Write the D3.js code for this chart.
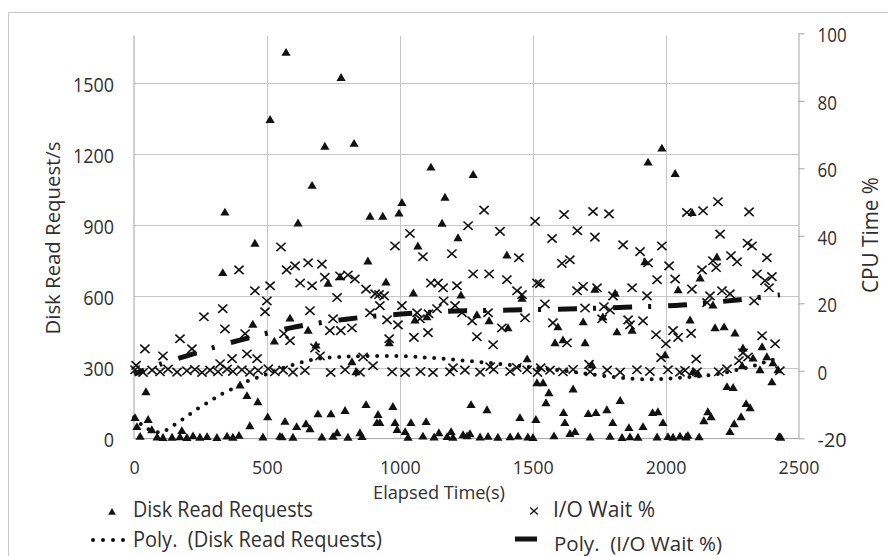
<!DOCTYPE html>
<html>
<head>
<meta charset="utf-8">
<script src="https://cdn.jsdelivr.net/npm/d3@7"></script>
<style>
  body { margin: 0; background: #fff; }
  text { font-family: "Open Sans", sans-serif; fill: #303030; }
</style>
</head>
<body>
<svg id="chart" width="888" height="556"></svg>
<script>
// Axis ticks
const xTicks = [0, 500, 1000, 1500, 2000, 2500];
const leftTicks = [0, 300, 600, 900, 1200, 1500];
const rightTicks = [-20, 0, 20, 40, 60, 80, 100];

// Disk read requests per second: [elapsed s, requests/s]
const diskReads = [
  [4,87],[11,49],[23,8],[45,196],[53,79],[67,36],[87,5],[109,3],[143,4],[173,6],[180,32],[199,3],
  [222,10],[248,4],[275,7],[312,3],[334,699],[342,954],[350,9],[372,4],[395,12],[399,225],[425,180],
  [436,53],[447,481],[455,823],[466,154],[485,5],[503,90],[512,1345],[528,410],[549,8],[557,6],[568,71],
  [572,1628],[587,507],[598,4],[612,49],[617,908],[647,61],[655,456],[662,40],[670,1067],[685,393],
  [692,103],[707,5],[718,1232],[730,654],[741,103],[749,8],[764,23],[775,681],[779,1522],[794,117],
  [805,4],[820,323],[828,1244],[835,280],[850,23],[858,7],[873,142],[880,748],[888,937],[914,66],
  [918,100],[925,66],[936,937],[948,659],[960,403],[974,134],[982,66],[990,37],[997,950],[1008,995],
  [1020,28],[1031,4],[1042,66],[1051,613],[1057,499],[1068,811],[1087,9],[1099,70],[1102,512],
  [1117,1144],[1129,5],[1147,23],[1159,907],[1170,1017],[1178,7],[1193,28],[1200,4],[1219,846],
  [1230,604],[1238,15],[1253,10],[1264,19],[1268,142],[1276,1113],[1290,521],[1302,5],[1328,120],
  [1332,8],[1336,496],[1369,4],[1403,773],[1407,466],[1415,6],[1445,9],[1452,87],[1460,591],[1479,335],
  [1482,5],[1501,3],[1512,79],[1516,234],[1539,234],[1550,150],[1561,192],[1580,10],[1584,403],
  [1595,470],[1614,415],[1616,108],[1621,66],[1640,20],[1652,208],[1659,28],[1690,491],[1697,403],
  [1709,104],[1716,5],[1723,310],[1734,629],[1738,108],[1764,512],[1779,120],[1791,8],[1801,66],
  [1810,612],[1817,449],[1829,159],[1836,3],[1862,45],[1866,6],[1874,456],[1896,4],[1915,49],[1922,745],
  [1934,1165],[1951,108],[1968,5],[1971,112],[1986,1224],[1990,66],[1998,352],[2009,7],[2028,4],
  [2036,1117],[2047,626],[2054,9],[2077,5],[2084,12],[2092,499],[2100,952],[2103,281],[2122,272],
  [2126,6],[2130,676],[2144,74],[2159,112],[2171,91],[2178,562],[2186,466],[2193,765],[2220,470],
  [2231,218],[2242,28],[2254,214],[2258,61],[2261,444],[2284,91],[2288,306],[2291,381],[2303,146],
  [2318,129],[2329,338],[2355,289],[2363,386],[2381,344],[2400,238],[2404,318],[2423,289],[2427,7],[2433,4]
];

// I/O wait share of CPU time: [elapsed s, percent]
const ioWait = [
  [4,0.3],[8,1.6],[34,-0.5],[41,6.5],[68,0.2],[98,-0.3],[109,4.4],[128,0.5],[162,-0.4],[173,9.5],
  [199,0],[218,6.5],[229,0.4],[256,-0.5],[263,16.0],[286,0.2],[316,-0.3],[324,2.1],[334,18.4],
  [342,12.4],[350,0.5],[369,3.6],[372,-0.2],[395,29.9],[406,0.3],[418,11.0],[425,5.0],[436,-0.4],
  [455,23.7],[463,3.6],[467,0.1],[493,17.5],[500,20.7],[505,0.6],[512,25.2],[530,-0.3],[553,36.7],
  [561,0.2],[564,11.0],[574,29.9],[587,8.9],[598,-0.4],[606,31.1],[625,26.0],[643,0.1],[655,32.0],
  [662,17.8],[670,25.2],[681,6.8],[700,4.4],[707,31.6],[718,27.7],[737,11.9],[740,-0.5],[749,15.4],
  [764,21.7],[775,28.1],[778,11.9],[794,0.3],[805,28.4],[820,12.7],[831,27.2],[850,-0.4],[862,4.1],
  [873,24.2],[888,17.2],[899,1.5],[907,22.8],[922,22.6],[925,19.3],[941,22.2],[952,15.1],[960,9.5],
  [971,-0.3],[982,37.0],[993,13.6],[1008,19.3],[1020,-0.5],[1038,40.7],[1053,9.9],[1065,17.2],
  [1076,15.4],[1078,-0.2],[1087,33.8],[1106,11.3],[1108,16.9],[1117,26.0],[1125,-0.5],[1140,18.4],
  [1144,26.0],[1163,24.6],[1165,20.7],[1189,-0.3],[1196,34.7],[1200,0.9],[1208,19.3],[1215,25.2],
  [1234,17.2],[1245,0.2],[1257,43.0],[1272,14.8],[1276,28.7],[1290,10.1],[1302,-0.4],[1317,47.6],
  [1332,17.2],[1336,28.7],[1340,1.2],[1351,7.7],[1353,0.4],[1377,41.3],[1384,12.7],[1403,27.0],
  [1415,-0.2],[1440,1.0],[1441,23.7],[1448,33.5],[1460,22.6],[1471,15.7],[1479,0.3],[1509,44.3],
  [1516,26.0],[1518,-0.5],[1527,25.8],[1530,0.9],[1546,19.8],[1565,0.2],[1573,39.2],[1576,14.2],
  [1610,31.8],[1614,-0.3],[1618,46.3],[1629,8.3],[1640,32.9],[1652,0.4],[1667,23.7],[1668,41.5],
  [1690,25.0],[1697,18.6],[1712,1.9],[1716,-0.3],[1727,47.2],[1734,39.6],[1742,24.6],[1761,15.4],
  [1768,19.0],[1780,0.2],[1787,46.5],[1791,18.0],[1802,22.2],[1829,-0.4],[1840,37.3],[1859,15.1],
  [1866,13.6],[1874,24.6],[1892,0.3],[1904,35.3],[1915,14.8],[1930,22.2],[1934,32.0],[1941,-0.2],
  [1964,10.7],[1968,27.0],[1983,3.9],[1986,37.0],[2001,8.0],[2009,0.3],[2013,31.1],[2028,11.9],
  [2036,27.2],[2047,9.9],[2054,-0.4],[2073,0.1],[2080,46.9],[2096,11.1],[2099,24.2],[2115,3.5],
  [2118,-0.3],[2137,29.9],[2141,47.4],[2156,20.2],[2167,22.2],[2178,32.6],[2190,30.6],[2197,50.1],
  [2200,-0.3],[2205,40.5],[2212,23.7],[2231,0.6],[2242,22.8],[2246,34.1],[2269,32.3],[2276,3.0],
  [2291,5.3],[2308,37.8],[2310,4.1],[2314,47.1],[2325,37.0],[2333,20.7],[2344,28.7],[2363,10.4],
  [2374,26.7],[2381,33.5],[2389,24.6],[2400,27.9],[2412,8.0],[2430,0]
];

// Polynomial trendline of disk reads (sampled along the curve)
const diskTrend = [
  [0,90],[45,45],[95,26],[120,35],[150,57],[181,80],[211,104],[241,127],[275,150],[305,171],
  [335,191],[369,209],[399,226],[429,243],[467,259],[500,272],[550,294],[606,314],[660,330],
  [707,339],[780,345],[862,348],[1000,348],[1114,341],[1226,331],[1339,319],[1452,306],[1565,293],
  [1678,278],[1780,263],[1860,254],[1941,250],[2000,252],[2054,257],[2115,262],[2175,269],
  [2230,280],[2280,293],[2330,306],[2366,320],[2400,332],[2430,343]
];

// Polynomial trendline of I/O wait (sampled along the curve)
const ioTrend = [
  [0,-1.0],[100,2.0],[211,4.7],[308,7.1],[399,9.1],[594,12.8],[798,15.3],[1005,16.8],[1211,17.7],
  [1422,18.0],[1629,18.3],[1847,18.8],[2062,19.5],[2269,21.0],[2430,22.5]
];

const svg = d3.select("#chart");
const x = d3.scaleLinear().domain([0, 2500]).range([134, 798.5]);
const yL = d3.scaleLinear().domain([0, 1700]).range([438.6, 35.7]);
const yR = d3.scaleLinear().domain([-20, 100]).range([438.3, 33.3]);

const ink = "#111";
const textColor = "#303030";
const gridColor = "#c6c6c6";
const axisColor = "#a2a2a2";

// Chart area frame
svg.append("path")
  .attr("d", "M8.5,556V12.5H888")
  .attr("fill", "none").attr("stroke", "#c9c9c9").attr("stroke-width", 1);

// Gridlines
svg.append("g").selectAll("line").data(leftTicks.filter(d => d > 0)).join("line")
  .attr("x1", x(0)).attr("x2", x(2500))
  .attr("y1", d => Math.round(yL(d)) + 0.5).attr("y2", d => Math.round(yL(d)) + 0.5)
  .attr("stroke", gridColor);
svg.append("g").selectAll("line").data(xTicks.filter(d => d > 0 && d < 2500)).join("line")
  .attr("x1", d => Math.round(x(d)) + 0.5).attr("x2", d => Math.round(x(d)) + 0.5)
  .attr("y1", yL(1700)).attr("y2", yL(0))
  .attr("stroke", gridColor);

// Axis lines
svg.append("line").attr("x1", x(0)).attr("x2", x(0)).attr("y1", yL(1700)).attr("y2", yL(0))
  .attr("stroke", axisColor);
svg.append("line").attr("x1", x(0)).attr("x2", x(2500)).attr("y1", yL(0)).attr("y2", yL(0))
  .attr("stroke", axisColor);

// Left axis labels
const gL = svg.append("g").attr("transform", `translate(${x(0)},0)`)
  .call(d3.axisLeft(yL).tickValues(leftTicks).tickSize(0).tickPadding(20).tickFormat(d => String(d)));
gL.select(".domain").remove();
gL.selectAll("text")
  .attr("dy", "0.4em").style("font-size", "20px").style("font-family", "Open Sans").attr("fill", textColor)
  .attr("textLength", d => String(d).length * 10.25).attr("lengthAdjust", "spacingAndGlyphs");

// Bottom axis labels
const gB = svg.append("g").attr("transform", `translate(0,${yL(0)})`)
  .call(d3.axisBottom(x).tickValues(xTicks).tickSize(0).tickPadding(22).tickFormat(d => String(d)));
gB.select(".domain").remove();
gB.selectAll("text")
  .style("font-size", "18.5px").style("font-family", "Open Sans").attr("fill", textColor)
  .attr("textLength", d => String(d).length * 10.2).attr("lengthAdjust", "spacingAndGlyphs");

// Right axis
const gR = svg.append("g").attr("transform", `translate(${x(2500)},0)`)
  .call(d3.axisRight(yR).tickValues(rightTicks).tickSize(6).tickSizeOuter(0).tickPadding(13)
    .tickFormat(d => String(d)));
gR.select(".domain").attr("stroke", axisColor);
gR.selectAll(".tick line").attr("stroke", axisColor);
gR.selectAll("text")
  .attr("dy", "0.42em").style("font-size", "20px").style("font-family", "Open Sans").attr("fill", textColor)
  .attr("textLength", d => String(d).length * 9.7).attr("lengthAdjust", "spacingAndGlyphs");

// Markers
const triPath = "M0,-4.8L4.6,3.1L-4.6,3.1Z";
const crossPath = "M-4.6,-4.2L4.6,4.2M-4.6,4.2L4.6,-4.2";

svg.append("g").selectAll("path").data(diskReads).join("path")
  .attr("d", triPath)
  .attr("transform", d => `translate(${x(d[0])},${yL(d[1])})`)
  .attr("fill", ink);

svg.append("g").selectAll("path").data(ioWait).join("path")
  .attr("d", crossPath)
  .attr("transform", d => `translate(${x(d[0])},${yR(d[1])})`)
  .attr("fill", "none").attr("stroke", ink).attr("stroke-width", 1.6);

// Trendlines
svg.append("path").datum(diskTrend)
  .attr("d", d3.line().x(d => x(d[0])).y(d => yL(d[1])).curve(d3.curveCatmullRom))
  .attr("fill", "none").attr("stroke", ink).attr("stroke-width", 4)
  .attr("stroke-linecap", "round").attr("stroke-dasharray", "0,9.5");

svg.append("path").datum(ioTrend)
  .attr("d", d3.line().x(d => x(d[0])).y(d => yR(d[1])).curve(d3.curveCatmullRom))
  .attr("fill", "none").attr("stroke", ink).attr("stroke-width", 5)
  .attr("stroke-dasharray", "19,16,3,17").attr("stroke-dashoffset", 8);

// Axis titles
svg.append("text").attr("transform", "translate(60,238) rotate(-90)")
  .attr("text-anchor", "middle").style("font-size", "20px")
  .attr("textLength", 193).attr("lengthAdjust", "spacingAndGlyphs")
  .text("Disk Read Request/s");

svg.append("text").attr("transform", "translate(878,235) rotate(-90)")
  .attr("text-anchor", "middle").style("font-size", "22px")
  .attr("textLength", 116).attr("lengthAdjust", "spacingAndGlyphs")
  .text("CPU Time %");

svg.append("text").attr("x", 373).attr("y", 499).style("font-size", "18px")
  .attr("textLength", 132).attr("lengthAdjust", "spacingAndGlyphs")
  .text("Elapsed Time(s)");

// Legend
const lg = svg.append("g");
lg.append("path").attr("d", "M0,-4L3.8,2.8L-3.8,2.8Z").attr("transform", "translate(112,512)").attr("fill", ink);
lg.append("text").attr("x", 133).attr("y", 517).style("font-size", "21px")
  .attr("textLength", 180).attr("lengthAdjust", "spacingAndGlyphs").text("Disk Read Requests");

lg.selectAll("circle").data([93, 103, 113, 123]).join("circle")
  .attr("cx", d => d).attr("cy", 540).attr("r", 2).attr("fill", ink);
lg.append("text").attr("x", 133).attr("y", 546.5).style("font-size", "21px").style("white-space", "pre")
  .attr("textLength", 249).attr("lengthAdjust", "spacingAndGlyphs").text("Poly.  (Disk Read Requests)");

lg.append("path").attr("d", "M-3.8,-3.5L3.8,3.5M-3.8,3.5L3.8,-3.5").attr("transform", "translate(534,511)")
  .attr("stroke", ink).attr("stroke-width", 1.3).attr("fill", "none");
lg.append("text").attr("x", 553).attr("y", 517).style("font-size", "21px")
  .attr("textLength", 102).attr("lengthAdjust", "spacingAndGlyphs").text("I/O Wait %");

lg.append("line").attr("x1", 515).attr("x2", 537).attr("y1", 539).attr("y2", 539)
  .attr("stroke", ink).attr("stroke-width", 5);
lg.append("text").attr("x", 554).attr("y", 551).style("font-size", "20.5px").style("white-space", "pre")
  .attr("textLength", 168).attr("lengthAdjust", "spacingAndGlyphs").text("Poly.  (I/O Wait %)");
</script>
</body>
</html>
